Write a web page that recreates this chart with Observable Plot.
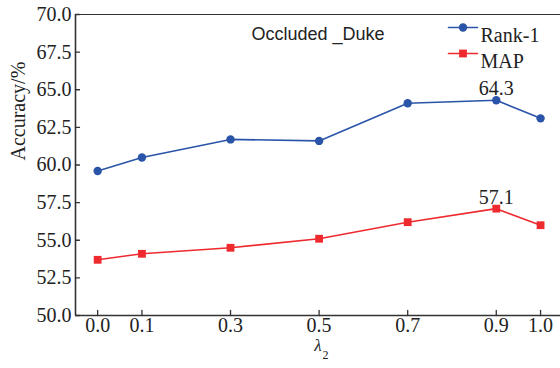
<!DOCTYPE html>
<html>
<head>
<meta charset="utf-8">
<script src="https://cdn.jsdelivr.net/npm/d3@7"></script>
<script src="https://cdn.jsdelivr.net/npm/@observablehq/plot@0.6"></script>
<style>
  html, body { margin: 0; padding: 0; background: #fff; }
  #chart { width: 560px; height: 368px; }
</style>
</head>
<body>
<div id="chart"></div>
<script>
const lambdas = [0.0, 0.1, 0.3, 0.5, 0.7, 0.9, 1.0];
const rank1 = [59.6, 60.5, 61.7, 61.6, 64.1, 64.3, 63.1];
const mapv  = [53.7, 54.1, 54.5, 55.1, 56.2, 57.1, 56.0];
const seriesNames = ["Rank-1", "MAP"];
const seriesColors = ["#2a54a8", "#ee2a2e"];
const seriesSymbols = ["circle", "square"];
const yTicks = [50.0, 52.5, 55.0, 57.5, 60.0, 62.5, 65.0, 67.5, 70.0];
const xTicks = [0.0, 0.1, 0.3, 0.5, 0.7, 0.9, 1.0];
const xDomain = [-0.05, 1.045];
const yDomain = [50, 70];
const titleText = "Occluded _Duke";
const yLabel = "Accuracy/%";

const seriesValues = [rank1, mapv];
const rows = [];
seriesNames.forEach((s, k) => lambdas.forEach((x, i) => rows.push({series: s, x, y: seriesValues[k][i], k})));
const peaks = seriesNames.map((s, k) => {
  const vals = seriesValues[k];
  const i = vals.indexOf(Math.max(...vals));
  return {series: s, x: lambdas[i], y: vals[i], k};
});

const serif = "Liberation Serif";
const sans = "Liberation Sans";
const axisColor = "#333";
const dotR = [4.2, 4.4];
const legendDy = [13, 39];
const fs = 20;
// plain straight-line shape for vectors (no arrowhead)
const stroke = {draw(context, l) { context.moveTo(0, 0); context.lineTo(0, -l); }};

const legendMarks = seriesNames.flatMap((s, k) => [
  Plot.vector([s], {frameAnchor: "top-right", dx: -97.5, dy: legendDy[k], rotate: 90, length: 29, anchor: "middle", shape: stroke, stroke: seriesColors[k], strokeWidth: 1.6}),
  Plot.dot([s], {frameAnchor: "top-right", dx: -97.5, dy: legendDy[k], r: dotR[k], symbol: seriesSymbols[k], fill: seriesColors[k], stroke: "none"}),
  Plot.text([s], {frameAnchor: "top-right", dx: -80, dy: legendDy[k], text: d => d, textAnchor: "start", fontSize: fs, fill: "#222"})
]);

const plot = Plot.plot({
  width: 560,
  height: 368,
  marginLeft: 75,
  marginRight: 0,
  marginTop: 14,
  marginBottom: 53,
  style: {fontFamily: serif, fontSize: fs + "px", color: "#222", background: "#fff"},
  x: {domain: xDomain},
  y: {domain: yDomain},
  color: {domain: seriesNames, range: seriesColors},
  symbol: {domain: seriesNames, range: seriesSymbols},
  marks: [
    Plot.axisY(yTicks, {tickSize: 0, tickPadding: 4, tickFormat: d3.format(".1f"), fontSize: fs, fontFamily: serif, fontVariant: "normal", label: null}),
    Plot.axisX(xTicks, {tickSize: 0, tickPadding: 2, tickFormat: d3.format(".1f"), fontSize: fs, fontFamily: serif, fontVariant: "normal", label: null}),
    Plot.ruleX([xDomain[0]], {stroke: axisColor, strokeWidth: 1.6}),
    Plot.ruleY([yDomain[0]], {stroke: axisColor, strokeWidth: 1.6}),
    Plot.ruleY([yDomain[1]], {stroke: axisColor, strokeWidth: 1.2}),
    Plot.vector(yTicks, {y: d => d, frameAnchor: "left", rotate: 90, length: 4, anchor: "start", shape: stroke, stroke: axisColor, strokeWidth: 1.3}),
    Plot.vector(xTicks, {x: d => d, frameAnchor: "bottom", rotate: 0, length: 5, anchor: "start", shape: stroke, stroke: axisColor, strokeWidth: 1.3}),
    Plot.line(rows, {x: "x", y: "y", z: "series", stroke: "series", strokeWidth: 1.6}),
    Plot.dot(rows.filter(d => d.k === 0), {x: "x", y: "y", r: dotR[0], symbol: "series", fill: "series", stroke: "none"}),
    Plot.dot(rows.filter(d => d.k === 1), {x: "x", y: "y", r: dotR[1], symbol: "series", fill: "series", stroke: "none"}),
    Plot.text(peaks, {x: "x", y: "y", text: d => d3.format(".1f")(d.y), lineAnchor: "bottom", dy: -5, fontSize: fs, fill: "#222"}),
    Plot.text([titleText], {frameAnchor: "top", dy: 13, text: d => d, fontFamily: sans, fontSize: 18, fill: "#222", className: "sans"}),
    ...legendMarks,
    Plot.text([yLabel], {frameAnchor: "left", dx: -57, dy: -4.5, rotate: -90, text: d => d, fontSize: fs, fill: "#222"}),
    Plot.text(["λ"], {frameAnchor: "bottom", dx: 0, dy: 35, text: d => d, fontSize: 17, fontStyle: "italic", fill: "#222"}),
    Plot.text(["2"], {frameAnchor: "bottom", dx: 7.5, dy: 43, text: d => d, fontSize: 12, fill: "#222"})
  ]
});
document.getElementById("chart").appendChild(plot);
// enforce fonts on every text node (inline style wins over any stylesheet rule)
d3.select(plot).selectAll("text").style("font-family", function() {
  return this.closest(".sans") ? sans : serif;
});
</script>
</body>
</html>
